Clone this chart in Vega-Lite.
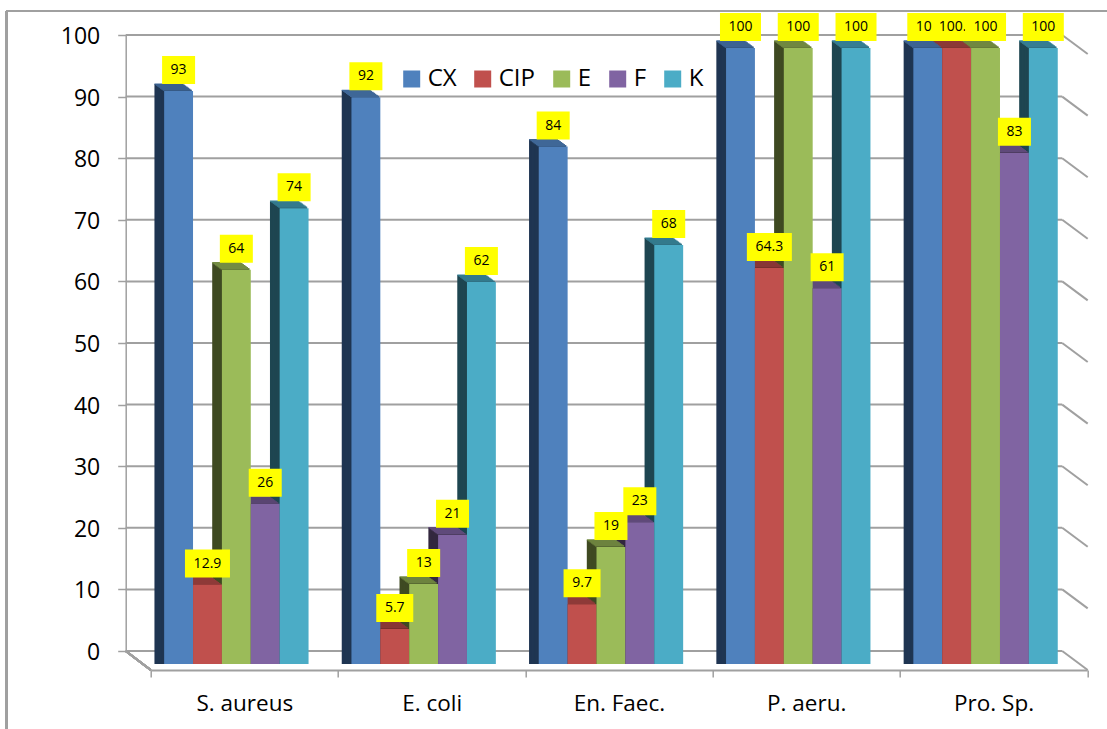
{
"$schema":"https://vega.github.io/schema/vega-lite/v6.json",
"width":936.5,"height":616,
"autosize":{"type":"none"},
"padding":{"left":142.7,"top":48,"right":27.8,"bottom":65},
"background":"white",
"config":{"view":{"stroke":null}},
"data":{"values":[
{"group":"S. aureus","series":"CX","value":93,"label":"93"},
{"group":"S. aureus","series":"CIP","value":12.9,"label":"12.9"},
{"group":"S. aureus","series":"E","value":64,"label":"64"},
{"group":"S. aureus","series":"F","value":26,"label":"26"},
{"group":"S. aureus","series":"K","value":74,"label":"74"},
{"group":"E. coli","series":"CX","value":92,"label":"92"},
{"group":"E. coli","series":"CIP","value":5.7,"label":"5.7"},
{"group":"E. coli","series":"E","value":13,"label":"13"},
{"group":"E. coli","series":"F","value":21,"label":"21"},
{"group":"E. coli","series":"K","value":62,"label":"62"},
{"group":"En. Faec.","series":"CX","value":84,"label":"84"},
{"group":"En. Faec.","series":"CIP","value":9.7,"label":"9.7"},
{"group":"En. Faec.","series":"E","value":19,"label":"19"},
{"group":"En. Faec.","series":"F","value":23,"label":"23"},
{"group":"En. Faec.","series":"K","value":68,"label":"68"},
{"group":"P. aeru.","series":"CX","value":100,"label":"100"},
{"group":"P. aeru.","series":"CIP","value":64.3,"label":"64.3"},
{"group":"P. aeru.","series":"E","value":100,"label":"100"},
{"group":"P. aeru.","series":"F","value":61,"label":"61"},
{"group":"P. aeru.","series":"K","value":100,"label":"100"},
{"group":"Pro. Sp.","series":"CX","value":100,"label":"100"},
{"group":"Pro. Sp.","series":"CIP","value":100,"label":"100.0"},
{"group":"Pro. Sp.","series":"E","value":100,"label":"100"},
{"group":"Pro. Sp.","series":"F","value":83,"label":"83"},
{"group":"Pro. Sp.","series":"K","value":100,"label":"100"}
]},
"resolve":{"scale":{"x":"independent","y":"independent","xOffset":"independent","color":"independent","stroke":"independent","shape":"independent"},"axis":{"x":"independent","y":"independent"},"legend":{"color":"independent"}},
"layer":[
{
"data":{"values":[{"tick":0},{"tick":10},{"tick":20},{"tick":30},{"tick":40},{"tick":50},{"tick":60},{"tick":70},{"tick":80},{"tick":90},{"tick":100}]},
"encoding":{
"x":{"datum":0,"type":"quantitative","scale":{"domain":[0,1],"range":[-17,919.5]},"axis":null},
"y":{"field":"tick","type":"quantitative","scale":{"domain":[0,100],"range":[603,-13]},
"axis":{"values":[0,10,20,30,40,50,60,70,80,90,100],"offset":17,"tickSize":8,"tickWidth":1.5,"tickColor":"#a0a0a0","domainColor":"#a0a0a0","domainWidth":1.5,"labelFont":"Open Sans","labelFontSize":23,"labelColor":"#000000","labelPadding":18,"labelOffset":1.5,"grid":false,"title":null}}
},
"layer":[
{"mark":{"type":"rule","color":"#a0a0a0","strokeWidth":2},"encoding":{"x2":{"datum":1}}},
{"mark":{"type":"rule","color":"#a0a0a0","strokeWidth":2,"xOffset":0,"x2Offset":25.5,"yOffset":0,"y2Offset":19},"encoding":{"x":{"datum":1,"type":"quantitative","scale":{"domain":[0,1],"range":[-17,919.5]},"axis":null},"x2":{"datum":1},"y2":{"field":"tick"}}},
{"mark":{"type":"rule","color":"#a0a0a0","strokeWidth":2,"x2Offset":25,"y2Offset":19},"encoding":{"x2":{"datum":0},"y":{"datum":0,"type":"quantitative","scale":{"domain":[0,100],"range":[603,-13]}},"y2":{"datum":0}}},
{"mark":{"type":"rule","color":"#a0a0a0","strokeWidth":2,"xOffset":-119,"x2Offset":50,"yOffset":-24,"y2Offset":-24},"encoding":{"x2":{"datum":1},"y":{"datum":100,"type":"quantitative","scale":{"domain":[0,100],"range":[603,-13]}},"y2":{"datum":100}}},
{"mark":{"type":"rule","color":"#a0a0a0","strokeWidth":2,"xOffset":-119,"x2Offset":-119,"yOffset":-24,"y2Offset":90},"encoding":{"x2":{"datum":0},"y":{"datum":100,"type":"quantitative","scale":{"domain":[0,100],"range":[603,-13]}},"y2":{"datum":0}}}
]
},
{
"mark":{"type":"rule","opacity":0},
"encoding":{"x":{"field":"group","type":"nominal","sort":["S. aureus","E. coli","En. Faec.","P. aeru.","Pro. Sp."],
"scale":{"range":[8,944.5],"paddingInner":0,"paddingOuter":0},
"axis":{"title":null,"labelAngle":0,"tickBand":"extent","offset":6,"tickSize":7,"tickWidth":1.5,"tickColor":"#a0a0a0","domainColor":"#a0a0a0","domainWidth":2,"labelFont":"Open Sans","labelFontSize":22.5,"labelColor":"#000000","labelPadding":15}}}
},
{
"resolve":{"scale":{"xOffset":"independent"}},
"encoding":{
"x":{"field":"group","type":"nominal","sort":["S. aureus","E. coli","En. Faec.","P. aeru.","Pro. Sp."],"scale":{"paddingInner":0.229,"paddingOuter":0.1145},"axis":null},
"y":{"field":"value","type":"quantitative","stack":null,"scale":{"domain":[0,100]},"axis":null},
"color":{"field":"series","type":"nominal","legend":null,"scale":{"domain":["CX","CIP","E","F","K"],"range":["#1F3552","#5E2523","#3F4A22","#33283F","#1E4651"]}}
},
"layer":[
{"mark":{"type":"bar","yOffset":-7,"y2Offset":-7},"encoding":{"xOffset":{"field":"series","sort":["CX","CIP","E","F","K"],"scale":{"range":[-9.7,134.7],"paddingInner":0,"paddingOuter":0}}}},
{"mark":{"type":"bar","yOffset":-6,"y2Offset":-6},"encoding":{"xOffset":{"field":"series","sort":["CX","CIP","E","F","K"],"scale":{"range":[-8.3,136.1],"paddingInner":0,"paddingOuter":0}}}},
{"mark":{"type":"bar","yOffset":-5,"y2Offset":-5},"encoding":{"xOffset":{"field":"series","sort":["CX","CIP","E","F","K"],"scale":{"range":[-6.9,137.5],"paddingInner":0,"paddingOuter":0}}}},
{"mark":{"type":"bar","yOffset":-4,"y2Offset":-4},"encoding":{"xOffset":{"field":"series","sort":["CX","CIP","E","F","K"],"scale":{"range":[-5.5,138.9],"paddingInner":0,"paddingOuter":0}}}},
{"mark":{"type":"bar","yOffset":-3,"y2Offset":-3},"encoding":{"xOffset":{"field":"series","sort":["CX","CIP","E","F","K"],"scale":{"range":[-4.2,140.2],"paddingInner":0,"paddingOuter":0}}}},
{"mark":{"type":"bar","yOffset":-2,"y2Offset":-2},"encoding":{"xOffset":{"field":"series","sort":["CX","CIP","E","F","K"],"scale":{"range":[-2.8,141.6],"paddingInner":0,"paddingOuter":0}}}},
{"mark":{"type":"bar","yOffset":-1,"y2Offset":-1},"encoding":{"xOffset":{"field":"series","sort":["CX","CIP","E","F","K"],"scale":{"range":[-1.4,143],"paddingInner":0,"paddingOuter":0}}}}
]
},
{
"resolve":{"scale":{"xOffset":"independent"}},
"encoding":{
"x":{"field":"group","type":"nominal","sort":["S. aureus","E. coli","En. Faec.","P. aeru.","Pro. Sp."],"scale":{"paddingInner":0.229,"paddingOuter":0.1145},"axis":null},
"y":{"field":"value","type":"quantitative","stack":null,"scale":{"domain":[0,100]},"axis":null},
"y2":{"field":"value"},
"stroke":{"field":"series","type":"nominal","legend":null,"scale":{"domain":["CX","CIP","E","F","K"],"range":["#3F6797","#8E3A38","#748C43","#5F4A7A","#378196"]}}
},
"layer":[
{"mark":{"type":"bar","strokeWidth":1.3,"yOffset":-7,"y2Offset":-7},"encoding":{"xOffset":{"field":"series","sort":["CX","CIP","E","F","K"],"scale":{"range":[-9.7,134.7],"paddingInner":0,"paddingOuter":0}}}},
{"mark":{"type":"bar","strokeWidth":1.3,"yOffset":-6,"y2Offset":-6},"encoding":{"xOffset":{"field":"series","sort":["CX","CIP","E","F","K"],"scale":{"range":[-8.3,136.1],"paddingInner":0,"paddingOuter":0}}}},
{"mark":{"type":"bar","strokeWidth":1.3,"yOffset":-5,"y2Offset":-5},"encoding":{"xOffset":{"field":"series","sort":["CX","CIP","E","F","K"],"scale":{"range":[-6.9,137.5],"paddingInner":0,"paddingOuter":0}}}},
{"mark":{"type":"bar","strokeWidth":1.3,"yOffset":-4,"y2Offset":-4},"encoding":{"xOffset":{"field":"series","sort":["CX","CIP","E","F","K"],"scale":{"range":[-5.5,138.9],"paddingInner":0,"paddingOuter":0}}}},
{"mark":{"type":"bar","strokeWidth":1.3,"yOffset":-3,"y2Offset":-3},"encoding":{"xOffset":{"field":"series","sort":["CX","CIP","E","F","K"],"scale":{"range":[-4.2,140.2],"paddingInner":0,"paddingOuter":0}}}},
{"mark":{"type":"bar","strokeWidth":1.3,"yOffset":-2,"y2Offset":-2},"encoding":{"xOffset":{"field":"series","sort":["CX","CIP","E","F","K"],"scale":{"range":[-2.8,141.6],"paddingInner":0,"paddingOuter":0}}}},
{"mark":{"type":"bar","strokeWidth":1.3,"yOffset":-1,"y2Offset":-1},"encoding":{"xOffset":{"field":"series","sort":["CX","CIP","E","F","K"],"scale":{"range":[-1.4,143],"paddingInner":0,"paddingOuter":0}}}}
]
},
{
"mark":{"type":"bar"},
"encoding":{
"x":{"field":"group","type":"nominal","sort":["S. aureus","E. coli","En. Faec.","P. aeru.","Pro. Sp."],"scale":{"paddingInner":0.229,"paddingOuter":0.1145},"axis":null},
"xOffset":{"field":"series","sort":["CX","CIP","E","F","K"],"scale":{"paddingInner":0,"paddingOuter":0}},
"y":{"field":"value","type":"quantitative","stack":null,"scale":{"domain":[0,100]},"axis":null},
"color":{"field":"series","type":"nominal","scale":{"domain":["CX","CIP","E","F","K"],"range":["#4F81BD","#C0504D","#9BBB59","#8064A2","#4BACC6"]},
"legend":{"title":null,"orient":"none","legendX":257,"legendY":19,"direction":"horizontal","columns":5,"gridAlign":"none","symbolType":"square","symbolSize":289,"symbolStrokeWidth":0,"labelFont":"Open Sans","labelFontSize":24,"labelColor":"#000000","labelOffset":4,"columnPadding":14,"padding":0}}
}
},
{
"encoding":{
"x":{"field":"group","type":"nominal","sort":["S. aureus","E. coli","En. Faec.","P. aeru.","Pro. Sp."],"scale":{"paddingInner":0.229,"paddingOuter":0.1145},"axis":null},
"xOffset":{"field":"series","sort":["CX","CIP","E","F","K"],"scale":{"type":"point","padding":0.5}},
"y":{"field":"value","type":"quantitative","stack":null,"scale":{"domain":[0,100]},"axis":null},
"shape":{"field":"label","type":"nominal","legend":null,"scale":{"domain":["93","92","84","64","74","62","13","21","19","23","61","26","68","83","100","5.7","9.7","12.9","64.3","100.0"],"range":["M-16.5,-14H16.5V14H-16.5Z","M-16.5,-14H16.5V14H-16.5Z","M-16.5,-14H16.5V14H-16.5Z","M-16.5,-14H16.5V14H-16.5Z","M-16.5,-14H16.5V14H-16.5Z","M-16.5,-14H16.5V14H-16.5Z","M-16.5,-14H16.5V14H-16.5Z","M-16.5,-14H16.5V14H-16.5Z","M-16.5,-14H16.5V14H-16.5Z","M-16.5,-14H16.5V14H-16.5Z","M-16.5,-14H16.5V14H-16.5Z","M-16.5,-14H16.5V14H-16.5Z","M-16.5,-14H16.5V14H-16.5Z","M-16.5,-14H16.5V14H-16.5Z","M-20.5,-14H20.5V14H-20.5Z","M-18.5,-14H18.5V14H-18.5Z","M-18.5,-14H18.5V14H-18.5Z","M-22.5,-14H22.5V14H-22.5Z","M-22.5,-14H22.5V14H-22.5Z","M-25,-14H25V14H-25Z"]}}
},
"layer":[
{"transform":[{"filter":"datum.series==='CX'"}],"mark":{"type":"point","filled":true,"opacity":1,"size":4,"fill":"#FFFF00","strokeWidth":0,"yOffset":-21}},
{"transform":[{"filter":"datum.series==='CX'"}],"mark":{"type":"text","font":"Open Sans","fontSize":14,"color":"#000000","yOffset":-21},"encoding":{"text":{"field":"label"},"shape":{"value":null}}},
{"transform":[{"filter":"datum.series==='CIP'"}],"mark":{"type":"point","filled":true,"opacity":1,"size":4,"fill":"#FFFF00","strokeWidth":0,"yOffset":-21}},
{"transform":[{"filter":"datum.series==='CIP'"}],"mark":{"type":"text","font":"Open Sans","fontSize":14,"color":"#000000","yOffset":-21},"encoding":{"text":{"field":"label"},"shape":{"value":null}}},
{"transform":[{"filter":"datum.series==='E'"}],"mark":{"type":"point","filled":true,"opacity":1,"size":4,"fill":"#FFFF00","strokeWidth":0,"yOffset":-21}},
{"transform":[{"filter":"datum.series==='E'"}],"mark":{"type":"text","font":"Open Sans","fontSize":14,"color":"#000000","yOffset":-21},"encoding":{"text":{"field":"label"},"shape":{"value":null}}},
{"transform":[{"filter":"datum.series==='F'"}],"mark":{"type":"point","filled":true,"opacity":1,"size":4,"fill":"#FFFF00","strokeWidth":0,"yOffset":-21}},
{"transform":[{"filter":"datum.series==='F'"}],"mark":{"type":"text","font":"Open Sans","fontSize":14,"color":"#000000","yOffset":-21},"encoding":{"text":{"field":"label"},"shape":{"value":null}}},
{"transform":[{"filter":"datum.series==='K'"}],"mark":{"type":"point","filled":true,"opacity":1,"size":4,"fill":"#FFFF00","strokeWidth":0,"yOffset":-21}},
{"transform":[{"filter":"datum.series==='K'"}],"mark":{"type":"text","font":"Open Sans","fontSize":14,"color":"#000000","yOffset":-21},"encoding":{"text":{"field":"label"},"shape":{"value":null}}}
]
}
]
}
